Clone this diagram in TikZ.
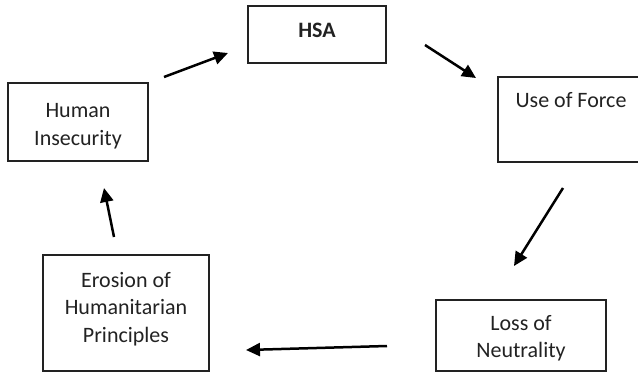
\documentclass[tikz,border=0pt]{standalone}
\usepackage{fontspec}
\setmainfont{Carlito}
\usetikzlibrary{arrows.meta}
\definecolor{ink}{HTML}{222222}
\tikzset{
  box/.style={draw=ink, line width=1.3pt, fill=none, inner sep=0pt},
  lbl/.style={text=ink, align=center, inner sep=0pt, font=\fontsize{22}{27.5}\selectfont},
  flow/.style={line width=2.5pt, -{Triangle[length=14pt,width=13pt]}, black},
}
\begin{document}
\begin{tikzpicture}[x=1pt, y=-1pt]
  \useasboundingbox (0,0) rectangle (638,372);
  \begin{scope}
    \clip (0,0) rectangle (638,372);
    % boxes
    \draw[box] (248,6) rectangle (386,63);
    \draw[box] (498,77) rectangle (660,162);
    \draw[box] (436,300) rectangle (606,371);
    \draw[box] (43,255) rectangle (209,371);
    \draw[box] (8,83) rectangle (148,161);
  \end{scope}
  % labels
  \node[lbl, font=\fontsize{22}{27.5}\selectfont\bfseries] (hsa) at (317,30) {HSA};
  \node[lbl] (force) at (571,100) {Use of Force};
  \node[lbl] (loss) at (521,338) {Loss of\\Neutrality};
  \node[lbl] (erosion) at (126,309) {Erosion of\\Humanitarian\\Principles};
  \node[lbl] (insec) at (78,126) {Human\\Insecurity};
  % arrow end points
  \coordinate (a1s) at (164,77);  \coordinate (a1e) at (228,53);
  \coordinate (a2s) at (425,45);  \coordinate (a2e) at (476,78);
  \coordinate (a3s) at (563,188); \coordinate (a3e) at (514,266);
  \coordinate (a4s) at (387,346); \coordinate (a4e) at (246,350);
  \coordinate (a5s) at (114,237); \coordinate (a5e) at (104,188);
  % cycle arrows
  \draw[flow] (a1s) -- (a1e);
  \draw[flow] (a2s) -- (a2e);
  \draw[flow] (a3s) -- (a3e);
  \draw[flow] (a4s) -- (a4e);
  \draw[flow] (a5s) -- (a5e);
\end{tikzpicture}
\end{document}
